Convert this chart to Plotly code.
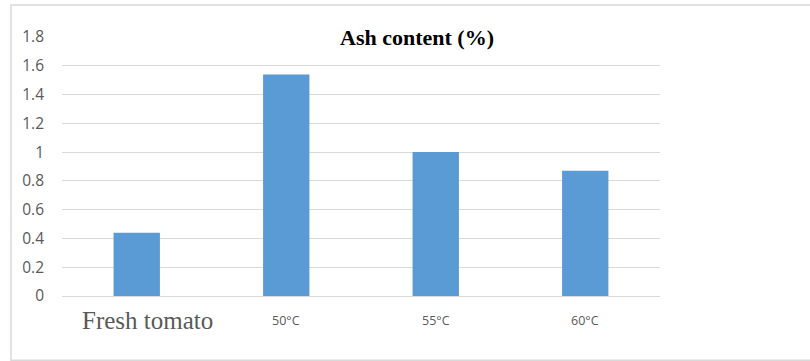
import plotly.graph_objects as go

# Ash content by sample
categories = ["Fresh tomato", "50°C", "55°C", "60°C"]
ash_content = [0.44, 1.54, 1.00, 0.87]
y_ticks = [0, 0.2, 0.4, 0.6, 0.8, 1, 1.2, 1.4, 1.6, 1.8]
y_tick_labels = ["0", "0.2", "0.4", "0.6", "0.8", "1", "1.2", "1.4", "1.6", "1.8"]

grid_color = "#d9d9d9"
label_color = "#595959"

fig = go.Figure(
    go.Bar(
        x=categories,
        y=ash_content,
        marker=dict(color="#5b9bd5", line=dict(width=0)),
    )
)

# Category labels: first in a serif face, the rest in a small sans face
for i, cat in enumerate(categories):
    serif = i == 0
    fig.add_annotation(
        x=cat, xref="x", y=-0.095, yref="paper",
        text=cat, showarrow=False, yanchor="middle",
        xshift=11 if serif else 0,
        font=dict(
            family="Liberation Serif" if serif else "Open Sans",
            size=25 if serif else 12.5,
            color=label_color,
        ),
    )

fig.add_annotation(
    x=0.593, xref="paper", y=1.0, yref="paper",
    text="<b>Ash content (%)</b>", showarrow=False,
    yanchor="middle", xanchor="center",
    font=dict(family="Liberation Serif", size=22, color="#000000"),
)

# Chart border
fig.add_shape(
    type="rect", xref="paper", yref="paper",
    x0=-0.0853, x1=1.26, y0=-0.248, y1=1.124,
    line=dict(color=grid_color, width=1.5), layer="below",
)

fig.update_layout(
    width=810, height=361,
    margin=dict(l=62, r=150, t=37, b=65),
    plot_bgcolor="white", paper_bgcolor="white",
    showlegend=False,
    bargap=0.69,
    xaxis=dict(
        showticklabels=False, showgrid=False, zeroline=False,
        showline=False, ticks="",
    ),
    yaxis=dict(
        range=[0, 1.8],
        tickvals=y_ticks, ticktext=y_tick_labels,
        showgrid=True, gridcolor=grid_color, gridwidth=1,
        zeroline=True, zerolinecolor=grid_color, zerolinewidth=1,
        showline=False, ticks="",
        ticklabelstandoff=17,
        tickfont=dict(family="Open Sans", size=15.5, color=label_color),
    ),
)

fig.write_html("out.html")
